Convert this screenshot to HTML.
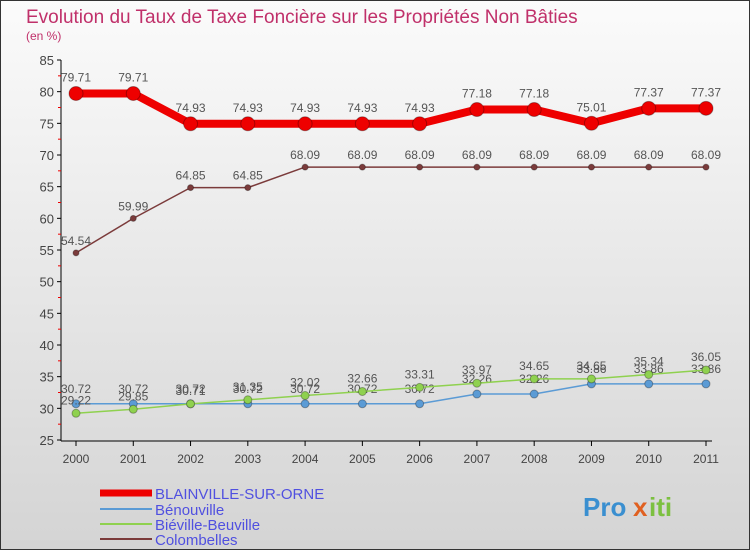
<!DOCTYPE html>
<html><head><meta charset="utf-8"><style>
body{margin:0}
#c{width:750px;height:550px;position:relative;overflow:hidden;font-family:"Liberation Sans",sans-serif}
</style></head><body>
<div id="c">
<svg id="s" width="750" height="550" xmlns="http://www.w3.org/2000/svg">
<defs><linearGradient id="bg" x1="0" y1="0" x2="0" y2="1"><stop offset="0" stop-color="#fbfbfb"/><stop offset="1" stop-color="#d4d4d4"/></linearGradient></defs>
<rect x="0.5" y="0.5" width="749" height="549" fill="url(#bg)" stroke="#333"/>
<text x="26" y="23" font-size="19" fill="#c0306a">Evolution du Taux de Taxe Foncière sur les Propriétés Non Bâties</text>
<text x="26" y="40" font-size="12" fill="#c0306a">(en %)</text>
<g id="axes"></g><g id="series"></g>
<g>
<line x1="100" y1="493" x2="152" y2="493" stroke="#e00" stroke-width="7"/>
<text x="155" y="499" font-size="15" fill="#5050e0">BLAINVILLE-SUR-ORNE</text>
<line x1="100" y1="509" x2="152" y2="509" stroke="#5b9bd5" stroke-width="2"/>
<text x="155" y="515" font-size="15" fill="#5050e0">Bénouville</text>
<line x1="100" y1="524" x2="152" y2="524" stroke="#8fd14f" stroke-width="2"/>
<text x="155" y="530" font-size="15" fill="#5050e0">Biéville-Beuville</text>
<line x1="100" y1="539" x2="152" y2="539" stroke="#7b3b3b" stroke-width="2"/>
<text x="155" y="545" font-size="15" fill="#5050e0">Colombelles</text>
</g>
<g font-size="26" font-weight="bold">
<text x="583" y="516" fill="#3a8fd0">Pro</text><text x="633" y="516" fill="#e06020">x</text><text x="649" y="516" fill="#7cc040">iti</text>
</g>
</svg>
</div>
<script>
const years=[2000,2001,2002,2003,2004,2005,2006,2007,2008,2009,2010,2011];
const yTicks=[25,30,35,40,45,50,55,60,65,70,75,80,85];
const blainville=[79.71,79.71,74.93,74.93,74.93,74.93,74.93,77.18,77.18,75.01,77.37,77.37];
const benouville=[30.72,30.72,30.72,30.72,30.72,30.72,30.72,32.26,32.26,33.86,33.86,33.86];
const bieville=[29.22,29.85,30.71,31.35,32.02,32.66,33.31,33.97,34.65,34.65,35.34,36.05];
const colombelles=[54.54,59.99,64.85,64.85,68.09,68.09,68.09,68.09,68.09,68.09,68.09,68.09];
const NS="http://www.w3.org/2000/svg";
const X=i=>76+i*(706-76)/(years.length-1);
const Y=v=>440-(v-25)*(380/60);
function mk(t,a,p){const e=document.createElementNS(NS,t);for(const k in a)e.setAttribute(k,a[k]);p.appendChild(e);return e;}
const ax=document.getElementById('axes');
mk('line',{x1:61,y1:60,x2:61,y2:441,stroke:'#000'},ax);
mk('line',{x1:61,y1:441,x2:712,y2:441,stroke:'#000'},ax);
yTicks.forEach(v=>{mk('line',{x1:57,y1:Y(v),x2:61,y2:Y(v),stroke:'#000'},ax);
const t=mk('text',{x:54,y:Y(v)+5,'text-anchor':'end','font-size':13,fill:'#444'},ax);t.textContent=v;


if(v<85)mk('line',{x1:58,y1:Y(v+2.5),x2:61,y2:Y(v+2.5),stroke:'#e00'},ax);});
years.forEach((y,i)=>{mk('line',{x1:X(i),y1:441,x2:X(i),y2:446,stroke:'#000'},ax);
const t=mk('text',{x:X(i),y:463,'text-anchor':'middle','font-size':12,fill:'#444'},ax);t.textContent=y;

});
const sg=document.getElementById('series');
function series(d,col,w,r,name,dy){
const g=mk('g',{},sg);


mk('polyline',{points:d.map((v,i)=>X(i)+','+Y(v)).join(' '),fill:'none',stroke:col,'stroke-width':w,'stroke-linejoin':'round'},g);
d.forEach((v,i)=>{const c=mk('circle',{cx:X(i),cy:Y(v),r:r,fill:col,stroke:'rgba(0,0,0,0.3)'},g);


const t=mk('text',{x:X(i),y:Y(v)+dy,'text-anchor':'middle','font-size':12,fill:'#555'},g);t.textContent=v.toFixed(2);

});}
series(colombelles,'#7b3b3b',1.5,3,'colombelles-series',-8);
series(benouville,'#5b9bd5',1.5,4,'benouville-series',-11);
series(bieville,'#8fd14f',1.5,4,'bieville-series',-9);
series(blainville,'#e00',8,7,'blainville-series',-12);
</script>
</body></html>
